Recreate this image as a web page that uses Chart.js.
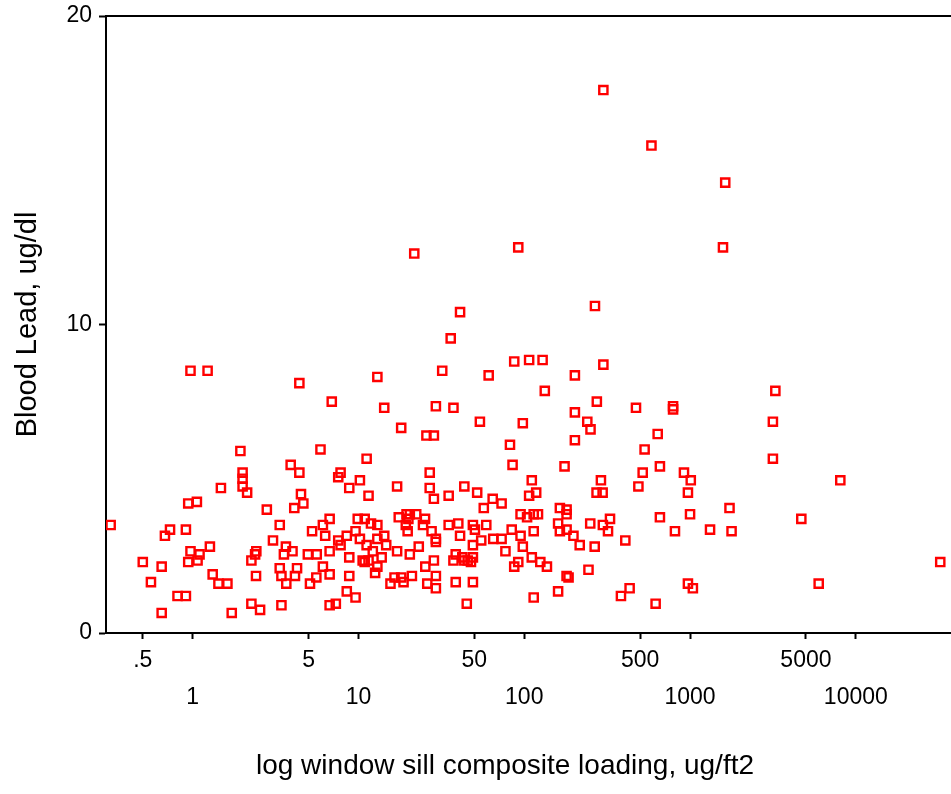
<!DOCTYPE html>
<html>
<head>
<meta charset="utf-8">
<title>Blood lead vs window sill loading</title>
<script src="https://cdn.jsdelivr.net/npm/chart.js@4.4.1/dist/chart.umd.min.js"></script>
<style>
  html, body { margin: 0; padding: 0; background: #fff; overflow: hidden; }
  #wrap { width: 951px; height: 794px; }
</style>
</head>
<body>
<div id="wrap"><canvas id="chart" width="951" height="794"></canvas></div>
<script>
// window sill composite loading (ug/ft2), one entry per child
const loading = [
  300, 585, 1630, 21.7, 92, 1580, 267, 41, 36, 0.97,
  1.23, 4.4, 6.9, 1.94, 5.9, 3.9, 4.4, 2.0, 2.0, 2.0,
  2.13, 1.48, 4.5, 4.1, 4.65, 2.8, 0.94, 1.06, 0.32, 3.35,
  6.7, 5.25, 6.1, 6.3, 0.73, 0.68, 0.91, 3.05, 3.65, 3.55,
  4.0, 4.95, 5.6, 6.7, 2.42, 2.38, 2.26, 0.97, 1.1, 1.27,
  0.94, 1.07, 0.5, 0.65, 0.56, 1.32, 1.43, 1.62, 0.81, 0.91,
  0.65, 1.72, 2.26, 2.55, 3.43, 3.35, 3.43, 4.26, 4.14, 3.67,
  5.1, 5.57, 6.1, 6.7, 2.41, 6.7, 87, 107, 129, 32,
  61, 13, 133, 14.3, 29.3, 37.4, 54, 98, 18.1, 25.7,
  28.5, 82, 85, 11.2, 26.9, 7.8, 7.55, 10.2, 8.8, 11.5,
  17.1, 26.9, 28.5, 35, 43.5, 52, 64.5, 73, 57, 111,
  118, 107, 95, 104, 114, 121, 164, 180, 180, 160,
  164, 180, 198, 216, 180, 185, 160, 202, 202, 202,
  175, 9.9, 10.9, 11.9, 13, 17.5, 19.5, 20.4, 22.3, 20,
  19.3, 25.2, 24.5, 27.6, 19.8, 35, 40, 49, 50.4, 59,
  84, 95, 114, 9.6, 8.5, 7.55, 7.8, 10.2, 13, 14.3,
  11.2, 14.7, 12.2, 8.8, 10.6, 11.5, 10.9, 13.8, 17.1, 20.4,
  23.1, 29.3, 29.3, 41, 49, 55, 65, 73, 77, 98,
  28.5, 25.3, 37.4, 38.6, 42.3, 43.5, 47.7, 49, 45.6, 87,
  92, 111, 125, 137, 8.8, 12.6, 13, 15.6, 16.5, 18.1,
  18.7, 21, 26, 29.3, 29.3, 38.6, 49, 8.5, 9.6, 7.3,
  45, 114, 300, 3270, 274, 472, 790, 790, 3160, 240,
  251, 638, 532, 3160, 658, 518, 919, 1010, 971, 488,
  290, 273, 297, 8060, 1730, 4690, 1000, 658, 329, 298,
  250, 320, 407, 266, 811, 1320, 1780, 32300, 244, 383,
  432, 620, 971, 1040, 5970
];

// blood lead (ug/dl), same order as loading
const bloodLead = [
  17.6, 15.8, 14.6, 12.3, 12.5, 12.5, 10.6, 10.4, 9.55, 8.5,
  8.5, 8.1, 7.5, 5.9, 5.95, 5.45, 5.2, 5.2, 5.0, 4.75,
  4.55, 4.7, 4.5, 4.05, 4.2, 4.0, 4.2, 4.25, 3.5, 3.5,
  3.7, 3.3, 3.5, 3.15, 3.35, 3.15, 3.35, 3.0, 2.8, 2.55,
  2.65, 2.55, 2.55, 2.65, 2.65, 2.55, 2.35, 2.65, 2.55, 2.8,
  2.3, 2.35, 2.3, 2.15, 1.65, 1.9, 1.6, 1.6, 1.2, 1.2,
  0.65, 0.65, 0.95, 0.75, 0.9, 2.1, 1.85, 2.1, 1.85, 1.6,
  1.6, 1.8, 2.15, 1.9, 1.85, 0.9, 8.8, 8.85, 8.85, 8.5,
  8.35, 8.3, 7.85, 7.3, 7.35, 7.3, 6.85, 6.8, 6.65, 6.4,
  6.4, 6.1, 5.45, 5.65, 5.2, 5.2, 5.05, 4.95, 4.7, 4.45,
  4.75, 4.7, 4.35, 4.45, 4.75, 4.55, 4.35, 4.2, 4.05, 4.95,
  4.55, 4.45, 3.85, 3.75, 3.85, 3.85, 4.05, 4.0, 3.85, 3.55,
  3.3, 3.35, 3.15, 2.85, 1.85, 1.8, 1.35, 8.35, 7.15, 6.25,
  5.4, 3.7, 3.7, 3.55, 3.5, 3.75, 3.85, 3.85, 3.85, 3.7,
  3.5, 3.7, 3.5, 3.3, 3.3, 3.5, 3.55, 3.5, 3.35, 3.5,
  3.35, 3.15, 3.3, 3.3, 3.15, 3.0, 2.85, 3.05, 3.05, 3.15,
  2.85, 2.85, 2.65, 2.45, 2.35, 2.35, 2.3, 2.45, 2.65, 2.55,
  2.8, 3.05, 2.95, 3.15, 2.85, 3.0, 3.05, 3.05, 2.65, 2.8,
  2.35, 2.15, 2.35, 2.55, 2.45, 2.35, 2.3, 2.45, 2.35, 2.15,
  2.3, 2.45, 2.3, 2.15, 1.85, 1.95, 2.15, 1.6, 1.8, 1.8,
  1.65, 1.85, 1.6, 1.85, 1.45, 1.65, 1.65, 1.35, 1.15, 0.95,
  0.95, 1.15, 8.7, 7.85, 7.5, 7.3, 7.35, 7.25, 6.85, 6.85,
  6.6, 6.45, 5.95, 5.65, 5.4, 5.2, 5.2, 4.95, 4.55, 4.75,
  4.95, 4.55, 4.55, 4.95, 4.05, 3.7, 3.85, 3.75, 3.7, 3.5,
  3.55, 3.3, 3.0, 2.8, 3.3, 3.35, 3.3, 2.3, 2.05, 1.2,
  1.45, 0.95, 1.6, 1.45, 1.6
];

const xTickValues = [0.5, 1, 5, 10, 50, 100, 500, 1000, 5000, 10000];
const xTickLabels = ['.5', '1', '5', '10', '50', '100', '500', '1000', '5000', '10000'];
const yTickValues = [0, 10, 20];

const xTitle = 'log window sill composite loading, ug/ft2';
const yTitle = 'Blood Lead, ug/dl';

const FONT = '"Liberation Sans", Arial, sans-serif';

// top frame line plus the x title, which sits left of the axis centre
const frameAndTitle = {
  id: 'frameAndTitle',
  afterDraw(chart) {
    const { ctx, chartArea } = chart;
    ctx.save();
    ctx.strokeStyle = '#000';
    ctx.lineWidth = 2;
    ctx.beginPath();
    ctx.moveTo(chartArea.left, chartArea.top);
    ctx.lineTo(chartArea.right, chartArea.top);
    ctx.stroke();

    ctx.fillStyle = '#000';
    ctx.font = '28px ' + FONT;
    ctx.textAlign = 'center';
    ctx.textBaseline = 'middle';
    ctx.fillText(xTitle, 505, 766);
    ctx.restore();
  }
};

const points = loading.map((x, i) => ({ x: x, y: bloodLead[i] }));

new Chart(document.getElementById('chart'), {
  type: 'scatter',
  data: {
    datasets: [{
      data: points,
      pointStyle: 'rect',
      pointRadius: 5.8,
      pointHoverRadius: 5.8,
      borderColor: '#ff0000',
      backgroundColor: 'rgba(0,0,0,0)',
      borderWidth: 2.4
    }]
  },
  options: {
    responsive: false,
    animation: false,
    events: [],
    layout: { autoPadding: false, padding: { top: 16, right: 0, bottom: 0, left: 0 } },
    plugins: {
      legend: { display: false },
      tooltip: { enabled: false }
    },
    scales: {
      x: {
        type: 'logarithmic',
        position: 'bottom',
        min: 0.3,
        max: 37500,
        afterBuildTicks: (scale) => {
          scale.ticks = xTickValues.map(v => ({ value: v }));
        },
        afterFit: (scale) => { scale.height = 161; },
        grid: {
          drawOnChartArea: false,
          drawTicks: true,
          tickLength: 6,
          tickWidth: 2,
          tickColor: '#000'
        },
        border: { display: true, color: '#000', width: 2 },
        ticks: {
          autoSkip: false,
          maxRotation: 0,
          padding: 3,
          color: '#000',
          font: { family: FONT, size: 23, lineHeight: 1.61 },
          // alternate ticks drop to a second row
          callback: (value, index) => index % 2 === 0
            ? [xTickLabels[index], '']
            : ['', xTickLabels[index]]
        }
      },
      y: {
        type: 'linear',
        position: 'left',
        min: 0,
        max: 20,
        afterBuildTicks: (scale) => {
          scale.ticks = yTickValues.map(v => ({ value: v }));
        },
        afterFit: (scale) => { scale.width = 106; },
        grid: {
          drawOnChartArea: false,
          drawTicks: true,
          tickLength: 7,
          tickWidth: 2,
          tickColor: '#000'
        },
        border: { display: true, color: '#000', width: 2 },
        ticks: {
          padding: 7,
          color: '#000',
          font: { family: FONT, size: 23, lineHeight: 0.5 }
        },
        title: {
          display: true,
          text: yTitle,
          color: '#000',
          font: { family: FONT, size: 29 },
          padding: { top: 11, bottom: 0 }
        }
      }
    }
  },
  plugins: [frameAndTitle]
});
</script>
</body>
</html>
